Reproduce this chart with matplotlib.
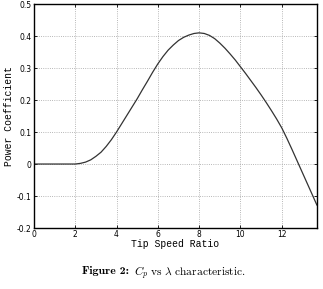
import matplotlib
matplotlib.use('Agg')
import matplotlib.pyplot as plt

# Cp vs tip speed ratio
tsr = [0, 1, 2, 2.25, 2.5, 2.75, 3, 3.25, 3.5, 3.75, 4, 4.25, 4.5, 4.75, 5,
       5.25, 5.5, 5.75, 6, 6.25, 6.5, 6.75, 7, 7.25, 7.5, 7.75, 8, 8.25,
       8.5, 8.75, 9, 9.25, 9.5, 9.75, 10, 10.25, 10.5, 10.75, 11, 11.25,
       11.5, 11.75, 12, 12.25, 12.5, 12.75, 13, 13.25, 13.5, 13.7]
cp = [0, 0, 0, 0.002, 0.006, 0.013, 0.024, 0.037, 0.055, 0.076, 0.1, 0.126,
      0.152, 0.178, 0.204, 0.232, 0.259, 0.287, 0.313, 0.336, 0.356, 0.372,
      0.386, 0.396, 0.403, 0.408, 0.41, 0.408, 0.402, 0.392, 0.378, 0.362,
      0.344, 0.325, 0.304, 0.283, 0.261, 0.239, 0.216, 0.192, 0.167, 0.141,
      0.113, 0.08, 0.045, 0.009, -0.027, -0.063, -0.099, -0.128]
xticks = [0, 2, 4, 6, 8, 10, 12]
yticks = [-0.2, -0.1, 0, 0.1, 0.2, 0.3, 0.4, 0.5]
ytick_labels = ['-0.2', '-0.1', '0', '0.1', '0.2', '0.3', '0.4', '0.5']

plt.rcParams['mathtext.fontset'] = 'cm'
plt.rcParams['axes.unicode_minus'] = False

fig = plt.figure(figsize=(3.23, 2.89), dpi=100)
ax = fig.add_axes([0.105, 0.211, 0.876, 0.775])
ax.plot(tsr, cp, color='#333333', linewidth=0.9)
ax.set_xlim(0, 13.7)
ax.set_ylim(-0.2, 0.5)
ax.set_xticks(xticks)
ax.set_yticks(yticks)
ax.set_yticklabels(ytick_labels)
ax.tick_params(direction='in', length=2.5, width=0.6, labelsize=5.5,
               top=True, right=True, pad=1.5)
ax.grid(True, linestyle=':', color='#a0a0a0', linewidth=0.6)
for s in ax.spines.values():
    s.set_linewidth(1.0)

ax.set_xlabel('Tip Speed Ratio', family='Liberation Mono', fontsize=7, labelpad=0)
ax.set_ylabel('Power Coefficient', family='Liberation Mono', fontsize=7, labelpad=2)

# caption: bold part in cmb10, rest in Computer Modern mathtext
t1 = fig.text(0.254, 0.052, 'Figure 2:', family='cmb10', fontsize=8.5,
              ha='left', va='baseline')
ax.annotate(r'$C_p\ \mathrm{vs}\ \lambda\ \mathrm{characteristic.}$',
            xy=(1, 0), xycoords=t1, xytext=(3.5, 0), textcoords='offset points',
            ha='left', va='baseline', fontsize=8.3, annotation_clip=False)

fig.savefig('out.png', dpi=100)
